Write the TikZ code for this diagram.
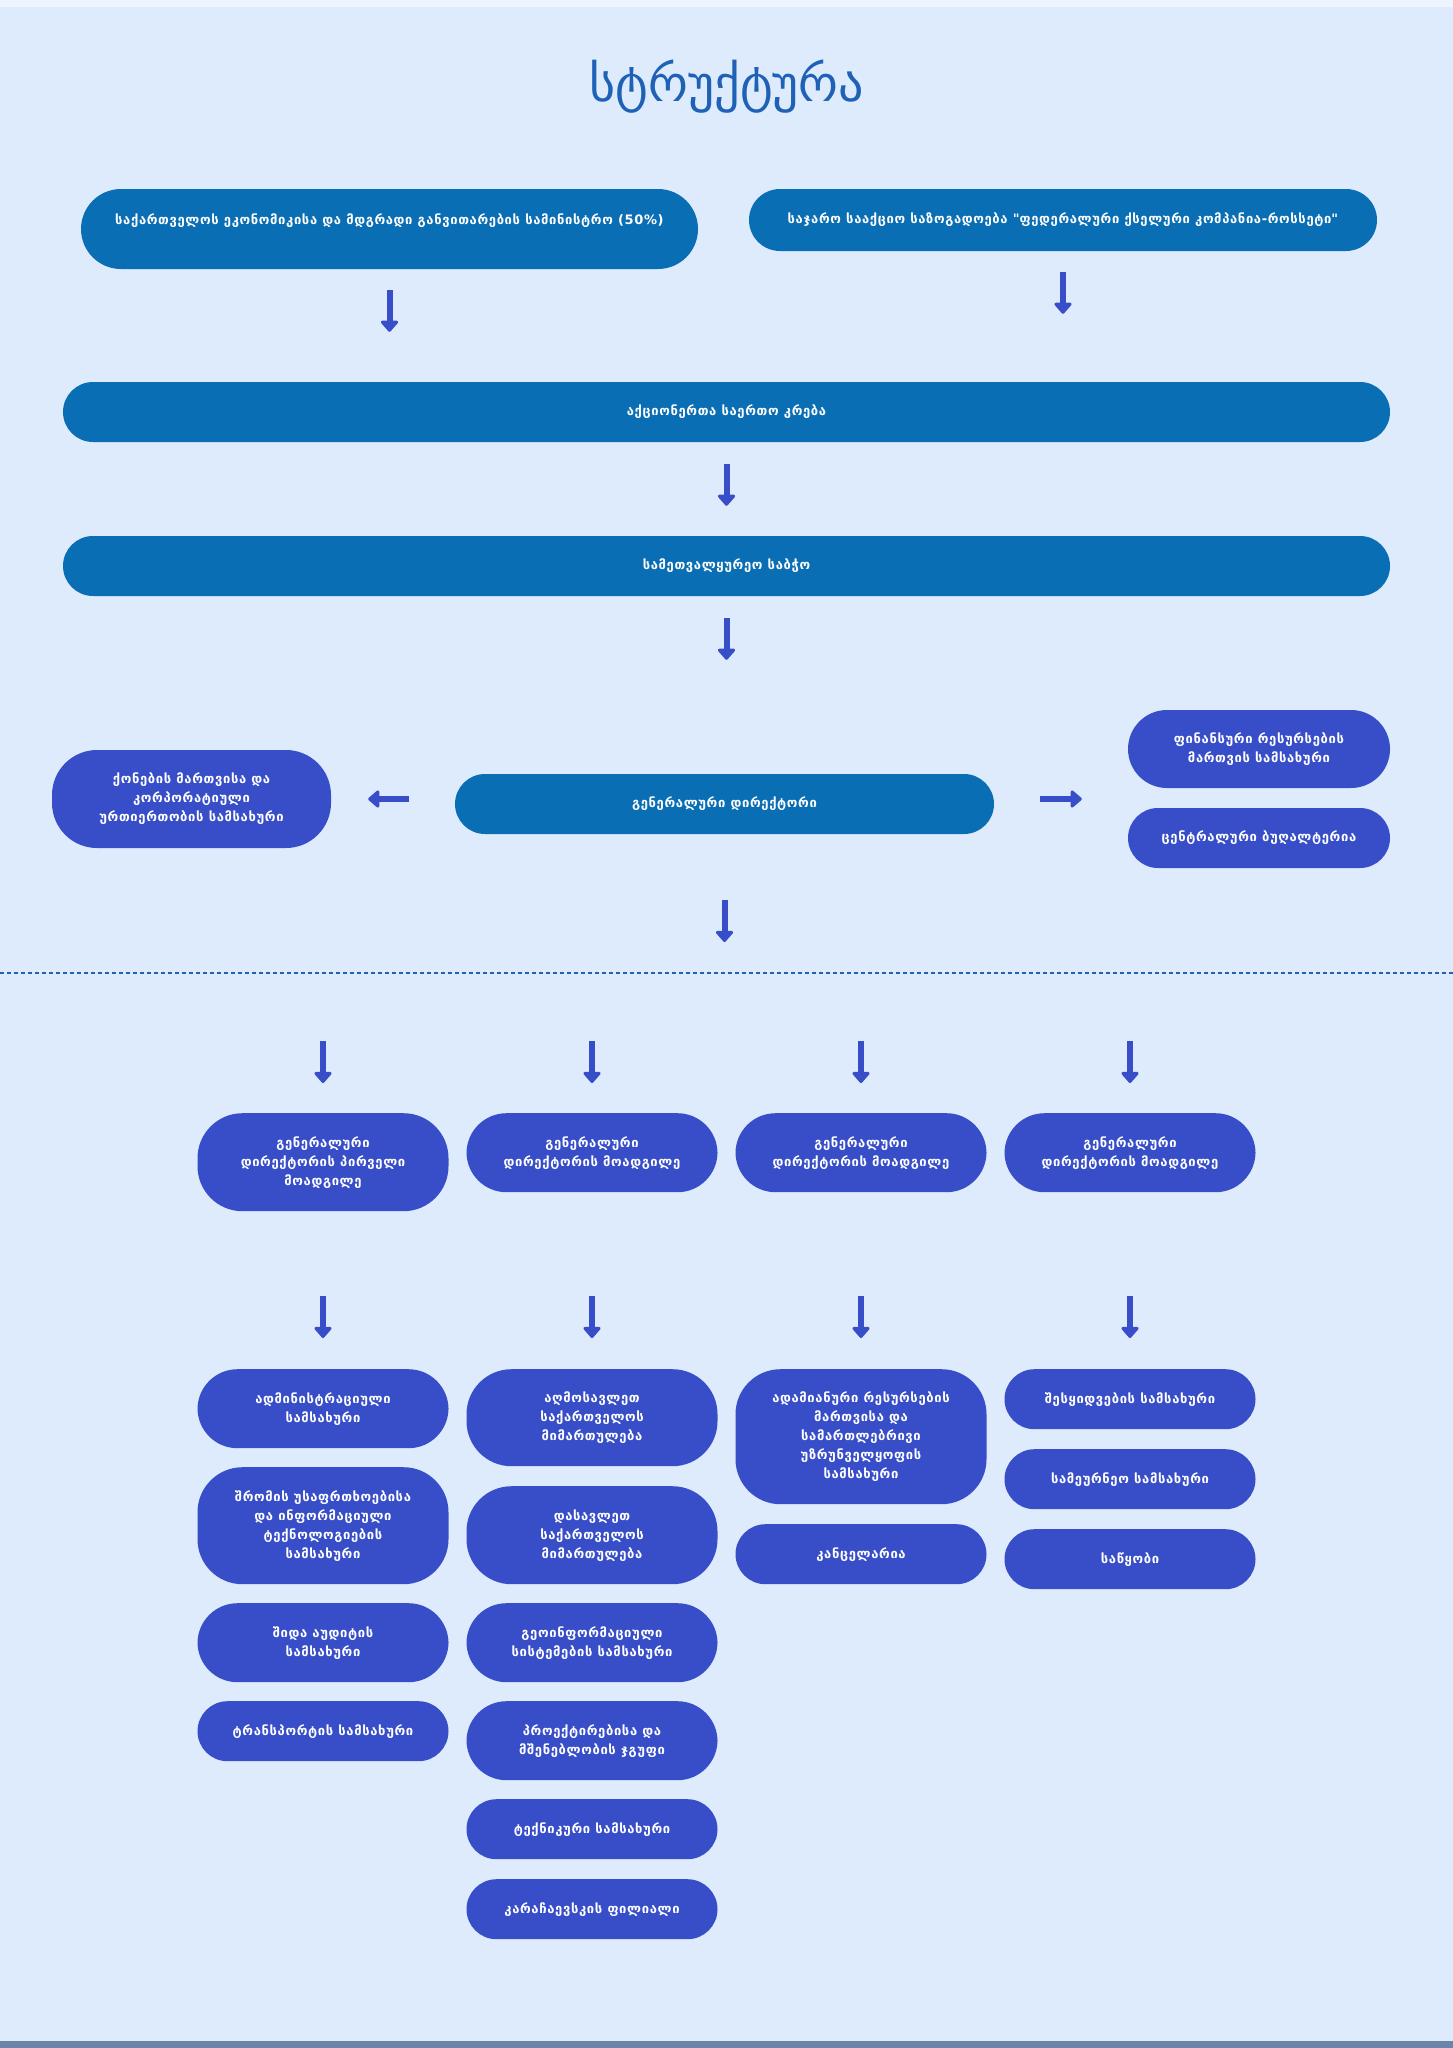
\documentclass[tikz,border=0pt]{standalone}
\usepackage{fontspec}
\setmainfont{DejaVu Sans}
\newfontfamily\geobox[LetterSpace=5]{DejaVu Sans}
\usetikzlibrary{arrows.meta}
\definecolor{bgblue}{HTML}{DDEBFD}
\definecolor{topstrip}{HTML}{EDF4FE}
\definecolor{botstrip}{HTML}{6A84AA}
\definecolor{topblue}{HTML}{0A6EB4}
\definecolor{midblue}{HTML}{384EC9}
\definecolor{titleblue}{HTML}{1F62B5}
\tikzset{
    mynode/.style = {rectangle, rounded corners=30pt, fill=topblue, align=center, inner sep=0pt, minimum height=60pt, font=\geobox\bfseries\fontsize{13}{19}\selectfont, text=white},
    mynodeb/.style = {mynode, fill=midblue, minimum width=251pt},
    mynodet/.style = {mynodeb, rounded corners=40pt}, % taller ones
    edgen/.style = {-{Triangle[length=12pt,width=20pt,round]}, line width=6pt, midblue},
    edged/.style = {titleblue, line width=1.5pt, dash pattern=on 4pt off 3pt},
}

\begin{document}
\begin{tikzpicture}[x=1pt,y=-1pt]
\fill[bgblue] (0,0) rectangle (1453,2048);
\fill[topstrip] (0,0) rectangle (1453,7);
\fill[botstrip] (0,2041) rectangle (1453,2048);
\path[use as bounding box] (0,0) rectangle (1453,2048);

\node[text=titleblue, font=\fontsize{50}{60}\selectfont] at (727,87) (title) {სტრუქტურა};

% owners
\node[mynode, minimum width=617pt, minimum height=80pt, rounded corners=40pt] at (389.5,229) (ministry) {საქართველოს ეკონომიკისა და მდგრადი განვითარების სამინისტრო (50\%)\\\mbox{}};
\node[mynode, minimum width=628pt, minimum height=62pt, rounded corners=31pt] at (1063,220) (rosseti) {საჯარო სააქციო საზოგადოება \textquotedbl ფედერალური ქსელური კომპანია-როსსეტი\textquotedbl};
\node[mynode, minimum width=1327pt] at (726.5,412) (meeting) {აქციონერთა საერთო კრება};
\node[mynode, minimum width=1327pt] at (726.5,566) (board) {სამეთვალყურეო საბჭო};

\draw[edgen, shorten <=21pt, shorten >=50pt] (ministry.south) -- (ministry.south |- meeting.north);
\draw[edgen, shorten <=21pt, shorten >=68pt] (rosseti.south) -- (rosseti.south |- meeting.north);
\draw[edgen, shorten <=22pt, shorten >=30pt] (meeting.south) -- (board.north);

% director row
\node[mynodet, minimum width=279pt, minimum height=98pt, rounded corners=45pt] at (191.5,799) (property) {ქონების მართვისა და\\კორპორატიული\\ურთიერთობის სამსახური};
\node[mynode, minimum width=539pt] at (724.5,804) (director) {გენერალური დირექტორი};
\node[mynodet, minimum width=262pt, minimum height=78pt, rounded corners=39pt] at (1259,749) (finance) {ფინანსური რესურსების\\მართვის სამსახური};
\node[mynodeb, minimum width=262pt] at (1259,838) (accounting) {ცენტრალური ბუღალტერია};

\draw[edgen, shorten <=22pt, shorten >=114pt] (board.south) -- (board.south |- director.north);
\draw[edgen, shorten <=46pt, shorten >=37pt] (director.west |- property.east) -- (property.east);
\draw[edgen, shorten <=46pt, shorten >=46pt] (director.east |- property.east) -- (finance.west |- property.east);

\coordinate (split) at (724,973);
\draw[edged] (0,973) -- (1453,973);
\draw[edgen, shorten <=66pt, shorten >=31pt] (director.south) -- (director.south |- split);

% deputies
\node[mynodet, anchor=north, minimum height=98pt, rounded corners=45pt] at (323,1113) (dep1) {გენერალური\\დირექტორის პირველი\\მოადგილე};
\node[mynodet, anchor=north, minimum height=79pt] at (592,1113) (dep2) {გენერალური\\დირექტორის მოადგილე};
\node[mynodet, anchor=north, minimum height=79pt] at (861,1113) (dep3) {გენერალური\\დირექტორის მოადგილე};
\node[mynodet, anchor=north, minimum height=79pt] at (1130,1113) (dep4) {გენერალური\\დირექტორის მოადგილე};

\draw[edgen, shorten <=68pt, shorten >=30pt] (dep1.north |- split) -- (dep1.north);
\draw[edgen, shorten <=68pt, shorten >=30pt] (dep2.north |- split) -- (dep2.north);
\draw[edgen, shorten <=68pt, shorten >=30pt] (dep3.north |- split) -- (dep3.north);
\draw[edgen, shorten <=68pt, shorten >=30pt] (dep4.north |- split) -- (dep4.north);

% first deputy
\node[mynodet, anchor=north, minimum height=79pt] at (323,1369) (admin) {ადმინისტრაციული\\სამსახური};
\node[mynodet, anchor=north, minimum height=117pt, rounded corners=45pt] at (323,1467) (safety) {შრომის უსაფრთხოებისა\\და ინფორმაციული\\ტექნოლოგიების\\სამსახური};
\node[mynodet, anchor=north, minimum height=79pt] at (323,1603) (audit) {შიდა აუდიტის\\სამსახური};
\node[mynodeb, anchor=north] at (323,1701) (transport) {ტრანსპორტის სამსახური};

% second column
\node[mynodet, anchor=north, minimum height=97pt, rounded corners=45pt] at (592,1369) (east) {აღმოსავლეთ\\საქართველოს\\მიმართულება};
\node[mynodet, anchor=north, minimum height=98pt, rounded corners=45pt] at (592,1486) (west) {დასავლეთ\\საქართველოს\\მიმართულება};
\node[mynodet, anchor=north, minimum height=79pt] at (592,1603) (geo) {გეოინფორმაციული\\სისტემების სამსახური};
\node[mynodet, anchor=north, minimum height=79pt] at (592,1701) (project) {პროექტირებისა და\\მშენებლობის ჯგუფი};
\node[mynodeb, anchor=north] at (592,1799) (technical) {ტექნიკური სამსახური};
\node[mynodeb, anchor=north] at (592,1879) (branch) {კარაჩაევსკის ფილიალი};

% third column
\node[mynodet, anchor=north, minimum height=135pt, rounded corners=45pt] at (861,1369) (hr) {ადამიანური რესურსების\\მართვისა და\\სამართლებრივი\\უზრუნველყოფის\\სამსახური};
\node[mynodeb, anchor=north] at (861,1524) (office) {კანცელარია};

% fourth column
\node[mynodeb, anchor=north] at (1130,1369) (procure) {შესყიდვების სამსახური};
\node[mynodeb, anchor=north] at (1130,1449) (economy) {სამეურნეო სამსახური};
\node[mynodeb, anchor=north] at (1130,1529) (storage) {საწყობი};

\draw[edgen, shorten <=85pt, shorten >=31pt] (dep1.south) -- (admin.north);
\draw[edgen, shorten <=104pt, shorten >=31pt] (dep2.south) -- (east.north);
\draw[edgen, shorten <=104pt, shorten >=31pt] (dep3.south) -- (hr.north);
\draw[edgen, shorten <=104pt, shorten >=31pt] (dep4.south) -- (procure.north);

\end{tikzpicture}
\end{document}
